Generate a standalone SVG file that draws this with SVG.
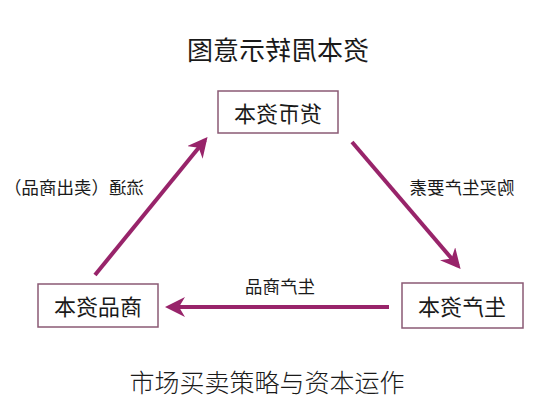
<svg xmlns="http://www.w3.org/2000/svg" width="533" height="400" viewBox="0 0 533 400">
<style>
text{font-family:"Noto Sans CJK SC","Noto Sans",sans-serif;fill:#1a1a1a;text-anchor:middle;dominant-baseline:central}
.box{fill:#fff;stroke:#8a5a74;stroke-width:1.5}
.node{font-size:22px}
.lbl{font-size:17.5px}
.arr{stroke:#98246a;stroke-width:4;fill:none;marker-end:url(#ah)}
</style>
<defs>
<marker id="ah" viewBox="0 0 10 10" refX="8" refY="5" markerWidth="5" markerHeight="5" orient="auto" markerUnits="strokeWidth">
<path d="M0,0 L10,5 L0,10 L3,5 Z" fill="#98246a"/>
</marker>
</defs>
<rect width="533" height="400" fill="#fff"/>
<text id="title" x="278" y="48" font-size="26" font-weight="400" transform="matrix(-1 0 0 1 556 0)">资本周转示意图</text>
<g id="connectors">
<line class="arr" x1="95" y1="275" x2="205" y2="140"/>
<line class="arr" x1="352" y1="142" x2="458" y2="266"/>
<line class="arr" x1="389" y1="307" x2="169" y2="307"/>
<text class="lbl" x="74" y="186" transform="matrix(-1 0 0 1 148 0)">流通（卖出商品）</text>
<text class="lbl" x="462" y="186" font-size="18" transform="matrix(-1 0 0 1 924 0)">购买生产要素</text>
<text class="lbl" x="280" y="285" transform="matrix(-1 0 0 1 560 0)">生产商品</text>
</g>
<g id="money">
<rect class="box" x="218" y="91" width="120" height="42"/>
<text class="node" x="278" y="112" transform="matrix(-1 0 0 1 556 0)">货币资本</text>
</g>
<g id="commodity">
<rect class="box" x="38" y="284" width="120" height="43"/>
<text class="node" x="98" y="305" transform="matrix(-1 0 0 1 196 0)">商品资本</text>
</g>
<g id="production">
<rect class="box" x="402" y="283" width="121" height="45"/>
<text class="node" x="462" y="305" transform="matrix(-1 0 0 1 924 0)">生产资本</text>
</g>
<text id="caption" x="267" y="381" font-size="25" font-weight="300" fill="#333">市场买卖策略与资本运作</text>
</svg>
